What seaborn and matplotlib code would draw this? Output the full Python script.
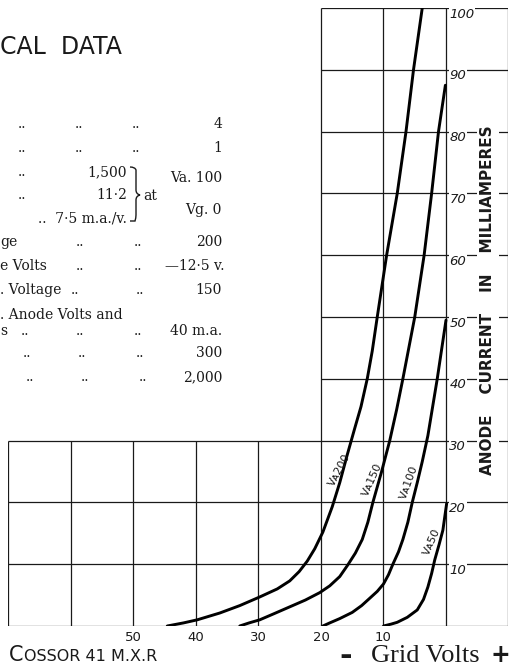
import matplotlib
matplotlib.use("Agg")
import matplotlib.pyplot as plt
from matplotlib.path import Path
from matplotlib.patches import PathPatch
import pandas as pd
import seaborn as sns

# ---- characteristic curves: anode current (mA) vs grid volts, one per anode voltage
va200_volts = [-44.6, -42.0, -39.8, -36.2, -33.0, -29.8, -27.0, -25.0, -23.5, -22.2,
               -21.0, -19.7, -18.2, -17.0, -15.8, -14.6, -13.6, -12.6, -11.8, -11.0,
               -9.5, -7.8, -6.4, -5.2, -3.8]
va200_ma = [0.0, 0.5, 1.0, 2.1, 3.3, 4.7, 6.0, 7.3, 8.8, 10.5,
            12.5, 15.2, 19.3, 23.2, 27.7, 32.0, 35.5, 40.0, 44.5, 50.0,
            60.0, 70.0, 80.0, 90.0, 100.0]

va150_volts = [-33.0, -31.5, -29.8, -27.5, -25.0, -22.5, -20.2, -18.6, -17.0, -15.7,
               -14.5, -13.4, -12.5, -11.7, -10.3, -9.0, -7.9, -6.9, -5.0, -3.5,
               -2.3, -1.2, -0.1]
va150_ma = [0.0, 0.5, 1.0, 2.0, 3.1, 4.2, 5.4, 6.5, 8.0, 9.9,
            11.8, 14.0, 16.8, 20.0, 25.0, 30.0, 35.0, 40.0, 50.0, 60.0,
            70.0, 80.0, 87.5]

va100_volts = [-19.7, -18.6, -17.0, -15.0, -13.5, -12.3, -11.0, -10.0, -9.2, -8.5,
               -7.6, -6.9, -6.1, -5.4, -4.6, -3.8, -2.9, -1.4, 0.0]
va100_ma = [0.0, 0.5, 1.2, 2.2, 3.3, 4.4, 5.6, 6.8, 8.3, 10.0,
            12.0, 14.0, 16.8, 20.0, 23.2, 26.6, 30.8, 40.0, 49.5]

va50_volts = [-10.0, -8.8, -7.8, -6.2, -4.6, -3.6, -2.9, -2.3, -1.8, -1.1, -0.5, 0.1]
va50_ma = [0.0, 0.3, 0.6, 1.4, 2.6, 4.3, 6.3, 8.5, 10.7, 13.2, 15.5, 19.8]

curve_names = ["Vᴀ200", "Vᴀ150", "Vᴀ100", "Vᴀ50"]

# ---- axis graduations
x_tick_volts = [-50, -40, -30, -20, -10]
x_tick_labels = ["50", "40", "30", "20", "10"]
y_tick_ma = [10, 20, 30, 40, 50, 60, 70, 80, 90, 100]
y_tick_labels = ["10", "20", "30", "40", "50", "60", "70", "80", "90", "100"]

# ---- data sheet text
sheet_title = "CAL  DATA"
row_fragments = ["", "", "ge", "e Volts", ". Voltage", "s", "", ""]
row_values = ["4", "1", "200", "—12·5 v.", "150", "40 m.a.", "300", "2,000"]
bracket_values = ["1,500", "11·2", "..  7·5 m.a./v."]
bracket_conditions = ["Va. 100", "Vg. 0"]
continued_line = ". Anode Volts and"
valve_name = ("C", "OSSOR 41 M.X.R")
x_title = "Grid Volts"
y_title = "ANODE    CURRENT    IN    MILLIAMPERES"

sns.set_theme(style="white")
plt.rcParams["font.family"] = ["DejaVu Sans"]

W, H = 510, 669
fig = plt.figure(figsize=(W / 100, H / 100), dpi=100)
fig.patch.set_facecolor("white")


def fx(x):
    return x / W


def fy(y):
    return 1 - y / H


ax = fig.add_axes([8.5 / W, 43 / H, 500 / W, 618 / H])

# ---- curves
frames = []
for name, v, i in zip(curve_names,
                      [va200_volts, va150_volts, va100_volts, va50_volts],
                      [va200_ma, va150_ma, va100_ma, va50_ma]):
    frames.append(pd.DataFrame({"grid_volts": v, "anode_ma": i, "curve": name}))
curves = pd.concat(frames, ignore_index=True)
sns.lineplot(data=curves, x="grid_volts", y="anode_ma", units="curve",
             estimator=None, sort=False, color="black", lw=2.1, ax=ax,
             solid_capstyle="round", solid_joinstyle="round", legend=False,
             zorder=3)
ax.set_xlim(-70, 10)
ax.set_ylim(0, 100)
ax.axis("off")

# ---- L-shaped grid: full width below 30 mA, narrow column above
ink = "#1a1a1a"
glw = 0.9
ax.hlines([0, 10, 20, 30], -70, 10, color=ink, lw=glw, zorder=1)
ax.hlines([40, 50, 60, 70, 80, 90, 100], -20, 10, color=ink, lw=glw, zorder=1)
ax.vlines([-70, -60, -50, -40, -30], 0, 30, color=ink, lw=glw, zorder=1)
ax.vlines([-20, -10, 0, 10], 0, 100, color=ink, lw=glw, zorder=1)

# curve labels written along each curve
label_pos = [(-17.0, 25.2, 62), (-11.8, 23.6, 66), (-5.9, 23.3, 70), (-2.2, 13.6, 66)]
for name, (lx, ly, rot) in zip(curve_names, label_pos):
    ax.text(lx, ly, name, rotation=rot, ha="center", va="center",
            fontsize=8, color=ink, rotation_mode="anchor", zorder=4)

# ---- tick labels
for v, lab in zip(x_tick_volts, x_tick_labels):
    ax.text(v, -1.8, lab, ha="center", va="center", fontsize=9.5,
            color=ink, clip_on=False)
for i, lab in zip(y_tick_ma, y_tick_labels):
    ax.text(0.55, i - 1.0, lab, ha="left", va="center", fontsize=9.5,
            color=ink, style="italic", zorder=2,
            bbox=dict(boxstyle="square,pad=0.05", fc="white", ec="none"))

ax.text(6.7, 52.8, y_title, rotation=90, ha="center", va="center",
        fontsize=11, fontweight="bold", color=ink, zorder=2,
        bbox=dict(boxstyle="square,pad=0.25", fc="white", ec="none"))

# ---- x axis title: negative to the left, positive to the right
fig.text(fx(339), fy(656), "-", fontsize=22, fontweight="bold",
         family="DejaVu Sans", va="center", ha="left", color=ink)
fig.text(fx(371), fy(656), x_title, fontsize=19, family="Liberation Serif",
         va="center", ha="left", color=ink)
fig.text(fx(510), fy(655), "+", fontsize=17, fontweight="bold",
         family="DejaVu Sans", va="center", ha="right", color=ink)

# ---- valve name in small capitals
big = fig.text(fx(9), fy(661), valve_name[0], fontsize=15, va="baseline",
               ha="left", color=ink)
fig.canvas.draw()
bb = big.get_window_extent()
fig.text((bb.x1 + 1) / W, fy(661), valve_name[1], fontsize=11.5,
         va="baseline", ha="left", color=ink)

# ---- data sheet block
fig.text(fx(0), fy(47), sheet_title, fontsize=17, va="center", ha="left",
         color=ink)

serif = dict(family="DejaVu Serif", fontsize=10, color=ink, va="center")
row_y = [124, 148, 242, 266, 290, 331, 353, 377]
row_dots = [[22, 79, 136], [22, 79, 136], [80, 138], [80, 138], [75, 140],
            [25, 80, 138], [27, 82, 140], [30, 85, 143]]
for y, frag, val, dots in zip(row_y, row_fragments, row_values, row_dots):
    if frag:
        fig.text(fx(0), fy(y), frag, ha="left", **serif)
    for d in dots:
        fig.text(fx(d), fy(y), "..", ha="center", **serif)
    fig.text(fx(225 if val.endswith("v.") else 222), fy(y), val, ha="right", **serif)

bracket_y = [172, 195, 218]
for y, val in zip(bracket_y, bracket_values):
    fig.text(fx(127), fy(y), val, ha="right", **serif)
for y in bracket_y[:2]:
    fig.text(fx(22), fy(y), "..", ha="center", **serif)

# thin curly brace grouping the three bracketed values
bx, top, mid, bot = 136, 167, 195, 221
verts = [(130, top), (135, top), (bx, top + 3), (bx, top + 6),
         (bx, mid - 5), (bx, mid - 1), (bx + 4, mid),
         (bx, mid + 1), (bx, mid + 5),
         (bx, bot - 6), (bx, bot - 3), (135, bot), (130, bot)]
codes = [Path.MOVETO, Path.CURVE3, Path.CURVE3, Path.LINETO,
         Path.LINETO, Path.CURVE3, Path.CURVE3,
         Path.CURVE3, Path.CURVE3,
         Path.LINETO, Path.CURVE3, Path.CURVE3, Path.LINETO]
brace = Path([(fx(x), fy(y)) for x, y in verts], codes)
fig.add_artist(PathPatch(brace, transform=fig.transFigure, fill=False,
                         ec=ink, lw=1.0))
fig.text(fx(143), fy(196), "at", ha="left", **serif)
fig.text(fx(222), fy(178), bracket_conditions[0], ha="right", **serif)
fig.text(fx(222), fy(210), bracket_conditions[1], ha="right", **serif)
fig.text(fx(0), fy(315), continued_line, ha="left", **serif)

fig.savefig("out.png", dpi=100, facecolor="white")
